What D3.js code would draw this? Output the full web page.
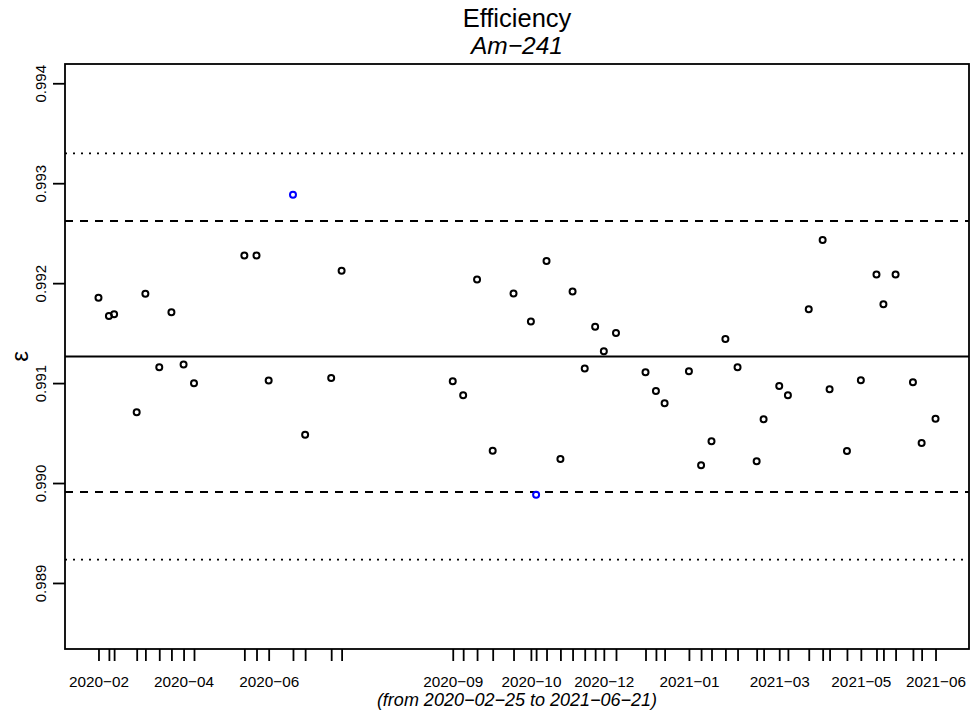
<!DOCTYPE html>
<html>
<head>
<meta charset="utf-8">
<script src="https://cdn.jsdelivr.net/npm/d3@7"></script>
<style>
  html, body { margin: 0; padding: 0; background: #fff; }
  svg { display: block; font-family: "Liberation Sans", Arial, Helvetica, sans-serif; }
</style>
</head>
<body>
<svg id="chart" width="979" height="711"></svg>
<script>
// ---- data ----
const dates = [
  "2020-02-25","2020-03-02","2020-03-05","2020-03-18","2020-03-23","2020-03-31","2020-04-07","2020-04-14",
  "2020-04-20","2020-05-19","2020-05-26","2020-06-02","2020-06-16","2020-06-23","2020-07-08","2020-07-14",
  "2020-09-16","2020-09-22","2020-09-30","2020-10-09","2020-10-21","2020-10-31","2020-11-03","2020-11-09",
  "2020-11-17","2020-11-24","2020-12-01","2020-12-07","2020-12-12","2020-12-19","2021-01-05","2021-01-11",
  "2021-01-16","2021-01-30","2021-02-06","2021-02-12","2021-02-20","2021-02-27","2021-03-10","2021-03-14",
  "2021-03-23","2021-03-28","2021-04-09","2021-04-17","2021-04-21","2021-05-01","2021-05-09","2021-05-18",
  "2021-05-22","2021-05-29","2021-06-08","2021-06-13","2021-06-21"
];
const values = [
  0.991853,0.991670,0.991690,0.990708,0.991893,0.991159,0.991710,0.991185,
  0.990998,0.992277,0.992277,0.991025,0.992885,0.990483,0.991052,0.992124,
  0.991019,0.990878,0.992037,0.990323,0.991896,0.991616,0.989882,0.992221,
  0.990240,0.991916,0.991145,0.991563,0.991319,0.991502,0.991109,0.990921,
  0.990798,0.991119,0.990177,0.990417,0.991442,0.991159,0.990217,0.990638,
  0.990971,0.990878,0.991740,0.992431,0.990938,0.990320,0.991029,0.992087,
  0.991790,0.992087,0.991008,0.990400,0.990644
];
// indices of ticks that carry a label
const labelledIdx = [0, 7, 11, 16, 21, 28, 33, 40, 46, 52];
const yTickValues = [0.989, 0.990, 0.991, 0.992, 0.993, 0.994];
const centerValue = 0.991266;
const sigma = 0.0006775;
const titleText = "Efficiency";
const subtitleText = "Am\u2212241";
const yLabelText = "\u03b5";

// ---- layout ----
const svg = d3.select("#chart");
const L = 65, R = 969, T = 64, B = 649;
const parse = d3.timeParse("%Y-%m-%d");
const pts = dates.map((d, i) => ({ date: parse(d), value: values[i], i }));

const d0 = pts[0].date, d1 = pts[pts.length - 1].date;
const span = d1 - d0;
const x = d3.scaleTime()
  .domain([new Date(+d0 - 0.04 * span), new Date(+d1 + 0.04 * span)])
  .range([L, R]);

const lo = centerValue - 4 * sigma, hi = centerValue + 4 * sigma;
const ypad = 0.04 * (hi - lo);
const y = d3.scaleLinear().domain([lo - ypad, hi + ypad]).range([B, T]);

const minus = s => s.replace(/-/g, "\u2212");
const fmtMonth = d3.timeFormat("%Y-%m");
const fmtDay = d3.timeFormat("%Y-%m-%d");

// reference lines
const refLines = [
  { v: centerValue, dash: null },
  { v: centerValue + 2 * sigma, dash: "8,7" },
  { v: centerValue - 2 * sigma, dash: "8,7" },
  { v: centerValue + 3 * sigma, dash: "2,6" },
  { v: centerValue - 3 * sigma, dash: "2,6" }
];
svg.append("g").selectAll("line").data(refLines).join("line")
  .attr("x1", L).attr("x2", R)
  .attr("y1", d => y(d.v)).attr("y2", d => y(d.v))
  .attr("stroke", "#000")
  .attr("stroke-width", d => d.dash === "2,6" ? 1.8 : 2)
  .attr("stroke-dasharray", d => d.dash);

// points
svg.append("g").selectAll("circle").data(pts).join("circle")
  .attr("cx", d => x(d.date))
  .attr("cy", d => y(d.value))
  .attr("r", 3)
  .attr("fill", "none")
  .attr("stroke", d => (d.value > centerValue + 2 * sigma || d.value < centerValue - 2 * sigma) ? "#0000ff" : "#000")
  .attr("stroke-width", 2);

// box
svg.append("rect")
  .attr("x", L).attr("y", T).attr("width", R - L).attr("height", B - T)
  .attr("fill", "none").attr("stroke", "#000").attr("stroke-width", 1.8);

// x axis
const xAxis = d3.axisBottom(x)
  .tickValues(pts.map(d => d.date))
  .tickSize(12)
  .tickFormat((d, i) => labelledIdx.includes(i) ? minus(fmtMonth(d)) : "");
const gx = svg.append("g").attr("transform", `translate(0,${B})`).call(xAxis);
gx.select(".domain").remove();
gx.selectAll(".tick line").attr("stroke", "#000").attr("stroke-width", 1.8);
gx.selectAll(".tick text")
  .attr("y", 38).attr("dy", 0)
  .attr("font-size", 15.3).attr("fill", "#000")
  .attr("font-family", "Liberation Sans, Arial, sans-serif");

// y axis
const yAxis = d3.axisLeft(y).tickValues(yTickValues).tickSize(12).tickFormat(d3.format(".3f"));
const gy = svg.append("g").attr("transform", `translate(${L},0)`).call(yAxis);
gy.select(".domain").remove();
gy.selectAll(".tick line").attr("stroke", "#000").attr("stroke-width", 1.8);
gy.selectAll(".tick text")
  .attr("x", 0).attr("dy", 0).attr("y", 0)
  .attr("text-anchor", "middle")
  .attr("transform", "translate(-19.5,0) rotate(-90)")
  .attr("font-size", 15).attr("fill", "#000")
  .attr("font-family", "Liberation Sans, Arial, sans-serif");

// y label
svg.append("text")
  .attr("transform", `translate(28,${(T + B) / 2}) rotate(-90)`)
  .attr("text-anchor", "middle")
  .attr("font-size", 24)
  .text(yLabelText);

// titles
svg.append("text").attr("x", (L + R) / 2).attr("y", 27)
  .attr("text-anchor", "middle").attr("font-size", 25.5).text(titleText);
svg.append("text").attr("x", (L + R) / 2).attr("y", 54)
  .attr("text-anchor", "middle").attr("font-size", 24.5).attr("font-style", "italic").text(subtitleText);

// date range note
svg.append("text").attr("x", (L + R) / 2).attr("y", 706)
  .attr("text-anchor", "middle").attr("font-size", 18).attr("font-style", "italic")
  .text(minus(`(from ${fmtDay(d0)} to ${fmtDay(d1)})`));
</script>
</body>
</html>
